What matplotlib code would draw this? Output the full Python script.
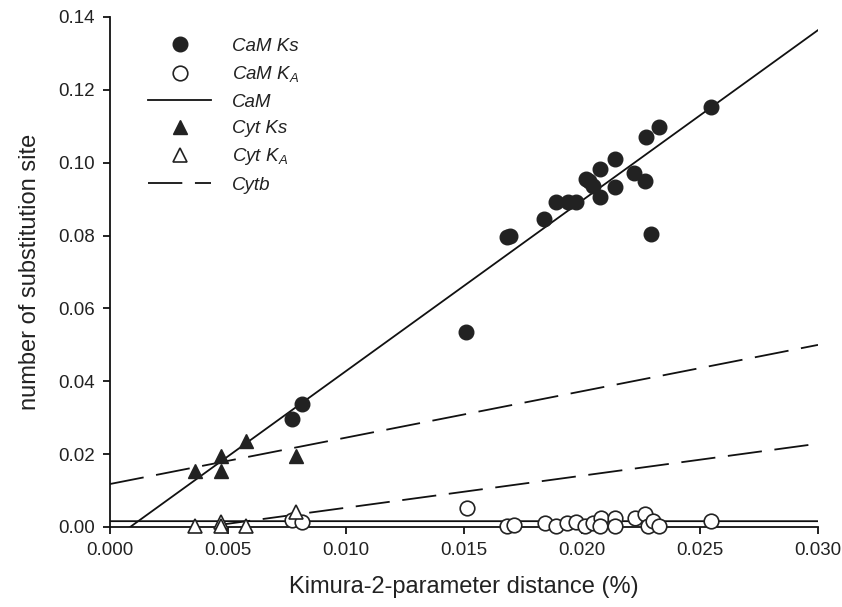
import numpy as np
import matplotlib
matplotlib.use("Agg")
import matplotlib.pyplot as plt
from matplotlib.lines import Line2D

# -------------------- FONTES ------------------------------
plt.rcParams['font.family'] = ['Liberation Sans', 'DejaVu Sans']
plt.rcParams['mathtext.fontset'] = 'custom'
plt.rcParams['mathtext.rm'] = 'Liberation Sans'
plt.rcParams['mathtext.it'] = 'Liberation Sans:italic'

# -------------------- DADOS -------------------------------
# CaM Ks (círculos cheios)
cam_ks_x = [0.0077, 0.00812, 0.0151, 0.01684, 0.01695, 0.0184, 0.01889, 0.01939,
            0.01975, 0.02017, 0.0203, 0.02048, 0.02076, 0.02076, 0.0214, 0.0214,
            0.02222, 0.02267, 0.0227, 0.02291, 0.02328, 0.02545]
cam_ks_y = [0.0296, 0.0337, 0.0535, 0.0797, 0.0800, 0.0845, 0.0891, 0.0891,
            0.0891, 0.0955, 0.0950, 0.0936, 0.0982, 0.0907, 0.1010, 0.0933,
            0.0971, 0.0951, 0.1070, 0.0804, 0.1099, 0.1152]

# CaM KA (círculos vazios)
cam_ka_x = [0.0077, 0.00812, 0.01511, 0.01681, 0.0171, 0.01843, 0.0189, 0.01938,
            0.01973, 0.02013, 0.02048, 0.02079, 0.02076, 0.0214, 0.0214, 0.02225,
            0.02267, 0.0228, 0.0230, 0.02328, 0.02547]
cam_ka_y = [0.0019, 0.0015, 0.0051, 0.0004, 0.0005, 0.0012, 0.0004, 0.0012,
            0.0015, 0.0004, 0.0012, 0.0026, 0.0004, 0.0026, 0.0004, 0.0026,
            0.0035, 0.0004, 0.0017, 0.0004, 0.0017]

# Cyt Ks / KA (triângulos)
cyt_ks_x = [0.0036, 0.00469, 0.00469, 0.00575, 0.00787]
cyt_ks_y = [0.0155, 0.0195, 0.0155, 0.0237, 0.0195]
cyt_ka_x = [0.0036, 0.00469, 0.00469, 0.00575, 0.00787]
cyt_ka_y = [0.0004, 0.0014, 0.0004, 0.0004, 0.0042]

# retas de regressão: (inclinação, intercepto, x inicial, x final)
cam_ks_fit = (4.68, -0.0040, 0.00085, 0.030)
cam_ka_fit = (-0.000167, 0.0016, 0.0, 0.030)
cyt_ks_fit = (1.273, 0.0118, 0.0, 0.030)
cyt_ka_fit = (0.879, -0.0035, 0.0045, 0.030)

legend_labels = ["CaM Ks", "CaM K$_A$", "CaM", "Cyt Ks", "Cyt K$_A$", "Cytb"]

# -------------------- GRÁFICO -----------------------------
dark = '#222222'
dash = (0, (19, 7))

fig = plt.figure(figsize=(8.42, 6.07), dpi=100)
ax = fig.add_axes([0.1306, 0.1318, 0.8409, 0.8402])


def reta(fit):
    a, b, x0, x1 = fit
    xs = np.array([x0, x1])
    return xs, a * xs + b


for fit, ls in [(cam_ks_fit, '-'), (cam_ka_fit, '-'), (cyt_ks_fit, dash), (cyt_ka_fit, dash)]:
    xs, ys = reta(fit)
    ax.plot(xs, ys, color='#111111', lw=1.3, linestyle=ls, zorder=2)

ms = 10.5
ax.plot(cam_ks_x, cam_ks_y, 'o', ms=ms, mfc=dark, mec=dark, mew=1.0, zorder=3, clip_on=False)
ax.plot(cam_ka_x, cam_ka_y, 'o', ms=ms, mfc='white', mec=dark, mew=1.2, zorder=3, clip_on=False)
ax.plot(cyt_ks_x, cyt_ks_y, '^', ms=10, mfc=dark, mec=dark, mew=1.0, zorder=3, clip_on=False)
ax.plot(cyt_ka_x, cyt_ka_y, '^', ms=10, mfc='white', mec=dark, mew=1.2, zorder=3, clip_on=False)

ax.set_xlim(0, 0.030)
ax.set_ylim(0, 0.14)
ax.set_xticks(np.arange(0, 0.0301, 0.005))
ax.set_yticks(np.arange(0, 0.1401, 0.02))
ax.xaxis.set_major_formatter(plt.FormatStrFormatter('%.3f'))
ax.yaxis.set_major_formatter(plt.FormatStrFormatter('%.2f'))
ax.tick_params(direction='out', length=5, width=1.3, labelsize=13.5,
               labelcolor=dark, color='#111111', pad=6)

for s in ['top', 'right']:
    ax.spines[s].set_visible(False)
for s in ['left', 'bottom']:
    ax.spines[s].set_linewidth(1.3)
    ax.spines[s].set_color('#111111')

ax.set_xlabel("Kimura-2-parameter distance (%)", fontsize=17, color=dark, labelpad=12)
ax.set_ylabel("number of substitution site", fontsize=17, color=dark, labelpad=12)

handles = [
    Line2D([], [], ls='none', marker='o', ms=ms, mfc=dark, mec=dark),
    Line2D([], [], ls='none', marker='o', ms=ms, mfc='white', mec=dark, mew=1.2),
    Line2D([], [], color='#111111', lw=1.3),
    Line2D([], [], ls='none', marker='^', ms=10, mfc=dark, mec=dark),
    Line2D([], [], ls='none', marker='^', ms=10, mfc='white', mec=dark, mew=1.2),
    Line2D([], [], color='#111111', lw=1.3, linestyle=dash),
]
ax.legend(handles, legend_labels, loc='upper left', bbox_to_anchor=(0.040, 0.978),
          frameon=False, borderpad=0, handlelength=3.4, handletextpad=1.1,
          labelspacing=0.5, prop={'style': 'italic', 'size': 13.5},
          labelcolor=dark)

fig.savefig("out.png", dpi=100)
